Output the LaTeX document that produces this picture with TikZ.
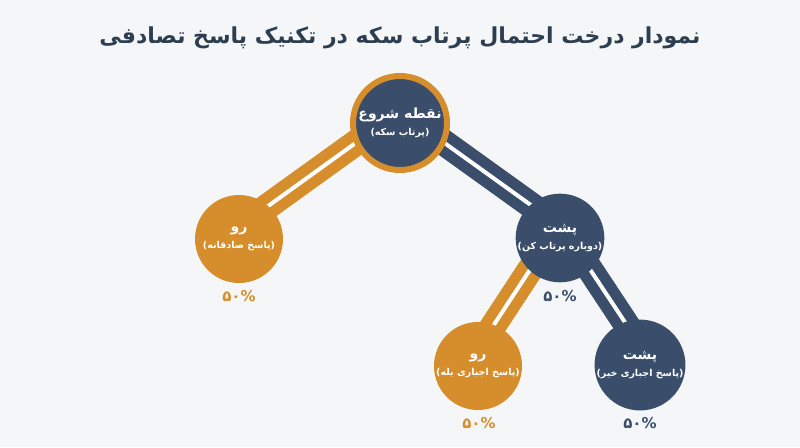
\documentclass[tikz,border=0pt]{standalone}
\usepackage{fontspec}
\usetikzlibrary{backgrounds}
\TeXXeTstate=1
\newfontfamily\arabicfont[Script=Arabic]{DejaVu Sans}
\definecolor{navy}{HTML}{3A4E6B}
\definecolor{amber}{HTML}{D68D2C}
\definecolor{paper}{HTML}{F4F6F8}
\definecolor{ink}{HTML}{2C3E50}
\newcommand{\headtxt}[1]{{\fontsize{14}{16}\selectfont\beginR #1\endR}}
\newcommand{\subtxt}[1]{{\fontsize{9.5}{12}\selectfont\beginR #1\endR}}

\begin{document}
\begin{tikzpicture}[x=1pt, y=-1pt,
    ball/.style = {circle, minimum size=88pt, inner sep=0pt, text=white, align=center, font=\arabicfont\bfseries},
    band/.style = {line width=26pt},
    stripe/.style = {white, line width=4pt},
    pct/.style = {font=\arabicfont\bfseries\fontsize{15}{18}\selectfont}]
    \useasboundingbox (0,0) rectangle (800,447);

    \node[font=\arabicfont\bfseries\fontsize{22}{26}\selectfont, text=ink] (title) at (400, 38) {\beginR نمودار درخت احتمال پرتاب سکه در تکنیک پاسخ تصادفی\endR};

    \node[ball, fill=navy, draw=amber, line width=6pt, minimum size=94pt] (root) at (400, 123) {\headtxt{نقطه شروع}\\[5pt]\subtxt{(پرتاب سکه)}};

    \node[ball, fill=amber] (ru1) at (239, 239) {\headtxt{رو}\\[5pt]\subtxt{(پاسخ صادقانه)}};
    \node[pct, text=amber] (p1) at (239, 296) {۵۰\%};

    \node[ball, fill=navy] (posht1) at (560, 238) {\headtxt{پشت}\\[5pt]\subtxt{(دوباره پرتاب کن)}};
    \node[pct, text=navy] (p2) at (560, 296) {۵۰\%};

    \node[ball, fill=amber] (ru2) at (478, 366) {\headtxt{رو}\\[5pt]\subtxt{(پاسخ اجباری بله)}};
    \node[pct, text=amber] (p3) at (479, 423) {۵۰\%};

    \node[ball, fill=navy] (posht2) at (640, 365) {\headtxt{پشت}\\[5pt]\subtxt{(پاسخ اجباری خیر)}};
    \node[pct, text=navy] (p4) at (640, 423) {۵۰\%};

    \begin{scope}[on background layer]
        \fill[paper] (0,0) rectangle (800,447);
        \draw[band, amber] ([yshift=12pt]root.center) -- ([yshift=12pt]ru1.center);
        \draw[stripe] ([yshift=12pt]root.center) -- ([yshift=12pt]ru1.center);
        \draw[band, navy] ([yshift=12pt]root.center) -- ([yshift=12pt]posht1.center);
        \draw[stripe] ([yshift=12pt]root.center) -- ([yshift=12pt]posht1.center);
        \draw[band, amber] ([yshift=14pt]posht1.center) -- ([yshift=17pt]ru2.center);
        \draw[stripe] ([yshift=14pt]posht1.center) -- ([yshift=17pt]ru2.center);
        \draw[band, navy] ([yshift=14pt]posht1.center) -- ([yshift=20pt]posht2.center);
        \draw[stripe] ([yshift=14pt]posht1.center) -- ([yshift=20pt]posht2.center);
    \end{scope}
\end{tikzpicture}
\end{document}
